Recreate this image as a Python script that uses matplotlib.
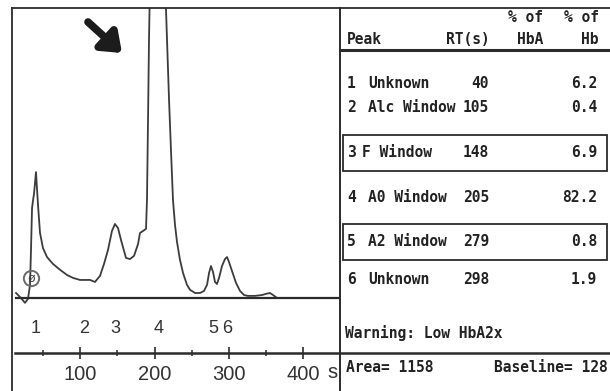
import matplotlib
matplotlib.use("Agg")
import matplotlib.pyplot as plt
from matplotlib.lines import Line2D
from matplotlib.patches import Rectangle

# ---------------- data ----------------
time_s = [14.1, 19.5, 26.2, 30.2, 32.9, 34.2, 35.6, 37.0, 38.3, 40.9, 43.6, 46.3,
          50.3, 55.7, 63.8, 73.2, 82.6, 90.6, 100.0, 113.4, 120.1, 126.8, 132.2,
          137.6, 142.9, 146.9, 151.0, 155.0, 161.7, 167.1, 172.5, 177.9, 180.5,
          184.6, 188.6, 189.9, 191.3, 192.6, 194.0, 203.4, 214.1, 216.8, 219.5,
          222.1, 224.8, 227.5, 230.2, 234.2, 238.3, 243.6, 247.7, 254.4, 261.1,
          266.4, 270.5, 273.2, 275.8, 278.5, 281.2, 283.9, 286.6, 290.6, 294.6,
          297.3, 300.0, 304.0, 309.4, 314.8, 320.1, 325.5, 334.9, 344.3, 349.7,
          355.0, 359.1, 364.4, 375.2, 395.3, 422.1, 449.0]
signal = [1.7, 0.3, -1.7, -0.3, 4.5, 16.6, 31.0, 33.8, 36.0, 43.4, 32.1, 22.4,
          17.2, 14.1, 11.7, 9.7, 7.9, 6.9, 6.2, 6.2, 5.5, 7.6, 11.7,
          16.6, 23.1, 25.5, 24.1, 20.0, 13.8, 13.4, 14.5, 18.6, 22.4,
          23.1, 23.8, 33.8, 61.4, 89.0, 109.7, 171.7, 109.7, 89.0, 68.3,
          51.0, 33.8, 25.2, 19.3, 13.1, 8.6, 4.5, 2.8, 1.7, 1.7,
          2.4, 4.5, 8.6, 11.0, 9.0, 5.5, 4.8, 6.9, 11.0, 13.4,
          14.1, 12.4, 9.3, 5.2, 2.4, 1.0, 0.7, 0.7, 1.0, 1.4,
          1.7, 1.0, 0.0, 0.0, 0.0, 0.0, 0.0]

peak_ids = ["1", "2", "3", "4", "5", "6"]
peak_names = ["Unknown", "Alc Window", "F Window", "A0 Window", "A2 Window", "Unknown"]
peak_rt = [40, 105, 148, 205, 279, 298]
pct_hb = ["6.2", "0.4", "6.9", "82.2", "0.8", "1.9"]
boxed_peaks = ["3", "5"]

major_ticks = [100, 200, 300, 400]
minor_ticks = [50, 150, 250, 350]
warning_text = "Warning: Low HbA2x"
area_value = 1158
baseline_value = 128

# ---------------- layout ----------------
W, H = 610, 391
fig = plt.figure(figsize=(W / 100, H / 100), dpi=100)
fig.patch.set_facecolor("white")

def fx(px):
    return px / W

def fy(py):
    return 1 - py / H

ink = "#2b2b2b"

ax = fig.add_axes([fx(12), fy(353), fx(340) - fx(12), fy(8) - fy(353)])
ax.set_xlim(8.7, 449.0)
ax.set_ylim(-19.0, 100.0)
for sp in ax.spines.values():
    sp.set_visible(False)
ax.set_facecolor("none")

ax.plot(time_s, signal, color="#3c3c3c", lw=1.3)
ax.plot([time_s[0], time_s[-1]], [0, 0], color=ink, lw=1.6)

# injection marker
ax.plot([34.0], [7.0], marker="o", ms=11, mfc="none", mec="#6a6a6a", mew=1.4)
ax.text(34.0, 7.0, "ø", ha="center", va="center", fontsize=9, color="#444",
        family="DejaVu Sans")

# peak number labels
for pid, rt in zip(peak_ids, peak_rt):
    ax.text(rt, -10.5, pid, ha="center", va="center", fontsize=13,
            family="Liberation Sans", color="#333")

ax.set_xticks(major_ticks)
ax.set_xticklabels([str(t) for t in major_ticks])
ax.set_xticks(minor_ticks, minor=True)
ax.set_yticks([])
ax.tick_params(axis="x", which="major", direction="inout", length=8.5, width=1.2,
               color=ink, pad=4.5, labelsize=14.5, labelcolor="#333")
ax.tick_params(axis="x", which="minor", direction="inout", length=4, width=1.1,
               color=ink)
for lab in ax.get_xticklabels():
    lab.set_family("Liberation Sans")
fig.text(fx(332), fy(373), "s", ha="center", va="center", fontsize=14.5,
         family="Liberation Sans", color="#333")

# arrow
ax.annotate("", xy=(122, H - 53), xytext=(88, H - 22),
            xycoords="figure pixels", textcoords="figure pixels",
            arrowprops=dict(arrowstyle="-|>,head_length=0.55,head_width=0.42",
                            lw=5.5, color="#1c1c1c", shrinkA=0, shrinkB=0,
                            mutation_scale=20))

# ---------------- frame lines ----------------
def hline(y, x0, x1, lw=1.4):
    fig.add_artist(Line2D([fx(x0), fx(x1)], [fy(y), fy(y)], color=ink, lw=lw,
                          transform=fig.transFigure))

def vline(x, y0, y1, lw=1.4):
    fig.add_artist(Line2D([fx(x), fx(x)], [fy(y0), fy(y1)], color=ink, lw=lw,
                          transform=fig.transFigure))

hline(8, 12, 610, 1.3)
vline(12, 8, 391, 1.3)
vline(340, 8, 391, 1.4)
hline(50, 340, 610, 2.2)
hline(353, 15, 610, 1.8)

# ---------------- right table ----------------
mono = dict(family="DejaVu Sans Mono", weight="bold", color="#222", fontsize=10.5)

def t(x, y, s, ha="left"):
    fig.text(fx(x), fy(y), s, ha=ha, va="center", **mono)

t(543, 17, "% of", "right")
t(599, 17, "% of", "right")
t(347, 40, "Peak")
t(490, 40, "RT(s)", "right")
t(543, 40, "HbA", "right")
t(599, 40, "Hb", "right")

row_y = [83, 107, 153, 197, 242, 280]
name_x = [368, 368, 362, 368, 368, 368]
for pid, name, rt, v, y, nx in zip(peak_ids, peak_names, peak_rt, pct_hb, row_y, name_x):
    t(347, y, pid)
    t(nx, y, name)
    t(489, y, str(rt), "right")
    t(597, y, v, "right")
    if pid in boxed_peaks:
        fig.add_artist(Rectangle((fx(343), fy(y + 18)), fx(607) - fx(343),
                                 fy(y - 18) - fy(y + 18), fill=False,
                                 edgecolor=ink, lw=1.3,
                                 transform=fig.transFigure))

t(345, 333, warning_text)
t(346, 368, f"Area= {area_value}")
t(494, 368, f"Baseline= {baseline_value}")

fig.savefig("out.png", dpi=100, facecolor="white")
